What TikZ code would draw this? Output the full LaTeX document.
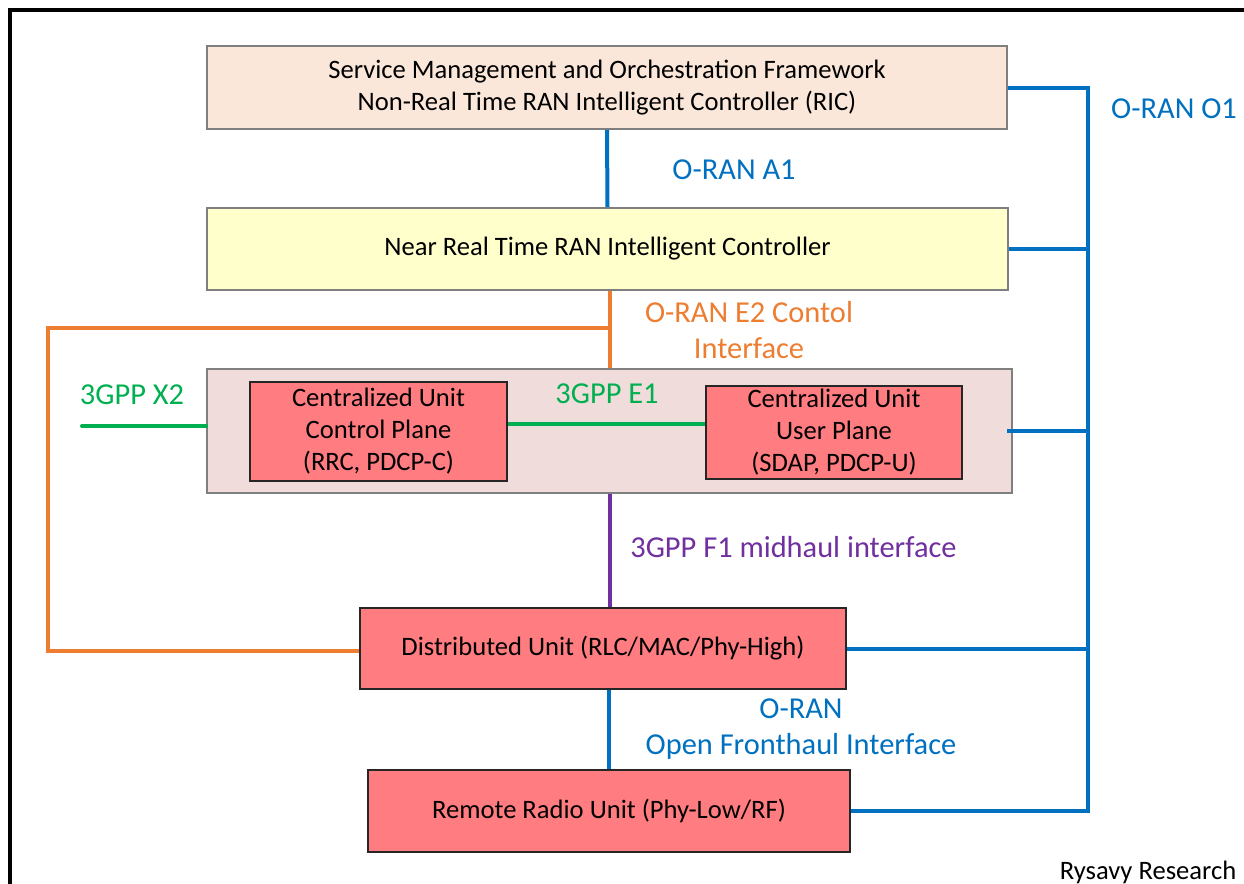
\documentclass[tikz,border=0pt]{standalone}
\usepackage{fontspec}
\setmainfont{Carlito}
\definecolor{oblue}{HTML}{0070C0}
\definecolor{oorange}{HTML}{ED7D31}
\definecolor{ogreen}{HTML}{00B050}
\definecolor{opurple}{HTML}{7030A0}
\definecolor{smofill}{HTML}{FBE7DA}
\definecolor{nrtfill}{HTML}{FFFFCC}
\definecolor{cufill}{HTML}{F0DCDB}
\definecolor{redfill}{HTML}{FF7C80}
\definecolor{boxline}{HTML}{7F7F7F}
\begin{document}
\begin{tikzpicture}[x=0.5pt,y=-0.5pt,
  box/.style={draw=boxline,line width=0.8pt,align=center,inner sep=0pt,
    font=\fontsize{13.3}{16}\selectfont},
  unitbox/.style={box,fill=redfill,draw=black!85},
  lbl/.style={align=center,inner sep=0pt,font=\fontsize{15.2}{18}\selectfont},
  wire/.style={line width=2pt}]
\useasboundingbox (0,0) rectangle (1244,884);
\fill[white] (0,0) rectangle (1244,884);
\draw[line width=1.6pt,black] (10,884) -- (10,10) -- (1244,10);

% boxes
\node[box,fill=smofill,minimum width=400pt,minimum height=41.5pt] (smo) at (607,87.5)
  {Service Management and Orchestration Framework\\Non-Real Time RAN Intelligent Controller (RIC)};
\node[box,fill=nrtfill,minimum width=400.5pt,minimum height=41pt] (nrt) at (607.5,249)
  {Near Real Time RAN Intelligent Controller};
\node[box,fill=cufill,minimum width=402.5pt,minimum height=62pt] (cu) at (609.5,431) {};
\node[unitbox,minimum width=128.5pt,minimum height=49.5pt] (cucp) at (378.5,431.5)
  {Centralized Unit\\Control Plane\\(RRC, PDCP-C)};
\node[unitbox,minimum width=128pt,minimum height=46.5pt] (cuup) at (834,432.5)
  {Centralized Unit\\User Plane\\(SDAP, PDCP-U)};
\node[unitbox,minimum width=243pt,minimum height=40.5pt] (du) at (603,648.5)
  {Distributed Unit (RLC/MAC/Phy-High)};
\node[unitbox,minimum width=241pt,minimum height=41pt] (rru) at (609,811)
  {Remote Radio Unit (Phy-Low/RF)};

% coordinates
\coordinate (o1top) at (1088,87);
\coordinate (e2j) at (610,328);
\coordinate (e2c) at (48,651);
\coordinate (x2end) at (82,426);
\coordinate (e1y) at (600,424);

% A1
\draw[wire,oblue] (smo.south) -- (nrt.north);
% O1
\draw[wire,oblue,line join=miter] (smo.east) -| (o1top |- rru.east) -- (rru.east);
\draw[wire,oblue] (nrt.east) -- (nrt.east -| o1top);
\draw[wire,oblue] ([xshift=-3pt]cu.east) -- (cu.east -| o1top);
\draw[wire,oblue] (du.east) -- (du.east -| o1top);
% E2
\draw[wire,oorange] (nrt.south -| e2j) -- (cu.north -| e2j);
\draw[wire,oorange] (e2j) -| (e2c) -- (e2c -| du.west);
% X2
\draw[wire,ogreen,line cap=round] (x2end) -- (x2end -| cu.west);
% E1
\draw[wire,ogreen] (cucp.east |- e1y) -- (cuup.west |- e1y);
% F1
\draw[wire,opurple] (cu.south) -- (cu.south |- du.north);
% Fronthaul
\draw[wire,oblue] (rru.north |- du.south) -- (rru.north);

% labels
\node[lbl,text=oblue] (la1) at (734,170) {O-RAN A1};
\node[lbl,text=oblue] (lo1) at (1174,109) {O-RAN O1};
\node[lbl,text=oorange] (le2) at (749,330) {O-RAN E2 Contol\\Interface};
\node[lbl,text=ogreen] (lx2) at (132,395) {3GPP X2};
\node[lbl,text=ogreen] (le1) at (607,394) {3GPP E1};
\node[lbl,text=opurple,anchor=west] (lf1) at (630,547) {3GPP F1 midhaul interface};
\node[lbl,text=oblue] (lfh) at (801,729) {O-RAN\\Open Fronthaul Interface};
\node[box,draw=none,anchor=east] (rys) at (1237,872) {Rysavy Research};
\end{tikzpicture}
\end{document}
